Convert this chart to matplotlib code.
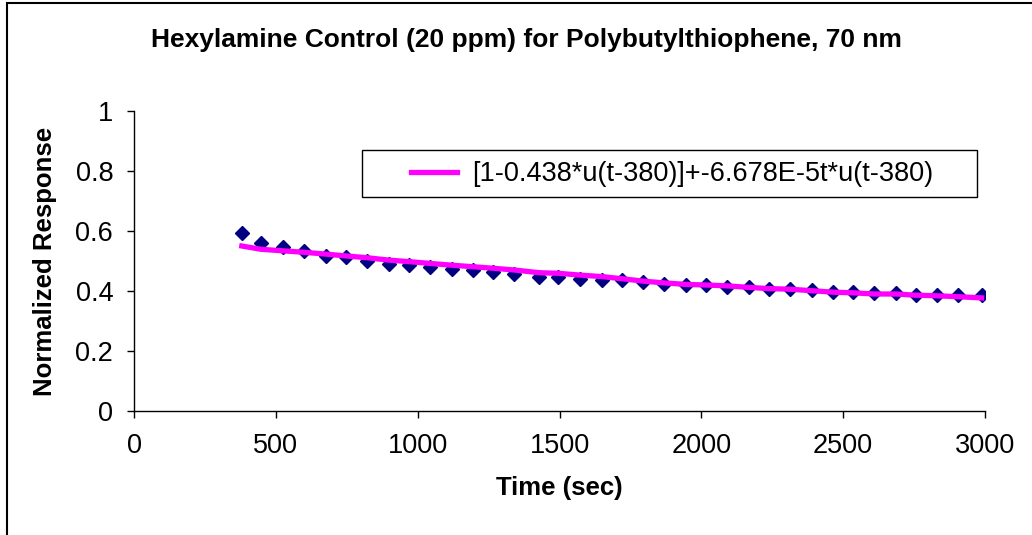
import matplotlib
matplotlib.use("Agg")
import matplotlib.pyplot as plt
from matplotlib.patches import Rectangle

plt.rcParams['font.family'] = ['Liberation Sans', 'DejaVu Sans']

# Data
time_s = [380, 448, 524, 600, 676, 746, 821, 898, 968, 1043, 1120, 1194,
          1264, 1341, 1428, 1496, 1572, 1649, 1719, 1795, 1869, 1946, 2016,
          2092, 2168, 2239, 2313, 2389, 2465, 2534, 2609, 2686, 2756, 2830,
          2906, 2988]
measured = [0.594, 0.561, 0.546, 0.533, 0.518, 0.512, 0.501, 0.491, 0.486,
            0.479, 0.473, 0.469, 0.462, 0.458, 0.447, 0.447, 0.441, 0.437,
            0.437, 0.430, 0.424, 0.419, 0.419, 0.414, 0.413, 0.408, 0.408,
            0.403, 0.397, 0.397, 0.392, 0.392, 0.386, 0.387, 0.388, 0.388]
fit = [0.550, 0.539, 0.534, 0.529, 0.523, 0.517, 0.511, 0.503, 0.498, 0.492,
       0.486, 0.481, 0.476, 0.470, 0.461, 0.459, 0.453, 0.448, 0.441, 0.433,
       0.427, 0.422, 0.420, 0.417, 0.412, 0.408, 0.406, 0.401, 0.396, 0.394,
       0.390, 0.390, 0.386, 0.384, 0.381, 0.377]
fit_label = "[1-0.438*u(t-380)]+-6.678E-5t*u(t-380)"
x_ticks = [0, 500, 1000, 1500, 2000, 2500, 3000]
y_ticks = [0, 0.2, 0.4, 0.6, 0.8, 1]
y_tick_labels = ["0", "0.2", "0.4", "0.6", "0.8", "1"]

W, H = 1032, 535
fig = plt.figure(figsize=(W / 100, H / 100), dpi=100)
ax = fig.add_axes([134 / W, 1 - 411 / H, (985 - 134) / W, (411 - 111) / H])

ax.plot(time_s, measured, linestyle='none', marker='D', markersize=7,
        color='#000080', zorder=2)
line, = ax.plot(time_s, fit, color='#FF00FF', linewidth=3.8, zorder=3,
                label=fit_label)

ax.set_xlim(0, 3000)
ax.set_ylim(0, 1)
ax.set_xticks(x_ticks)
ax.set_xticklabels([str(v) for v in x_ticks])
ax.set_yticks(y_ticks)
ax.set_yticklabels(y_tick_labels)
ax.tick_params(axis='both', direction='out', length=5, width=1,
               labelsize=19.5, colors='black', pad=10)
ax.tick_params(axis='x', pad=11)
for s in ['top', 'right']:
    ax.spines[s].set_visible(False)
for s in ['left', 'bottom']:
    ax.spines[s].set_linewidth(1)
    ax.spines[s].set_color('black')

ax.set_xlabel("Time (sec)", fontsize=18.5, fontweight='bold', labelpad=12)
ax.set_ylabel("Normalized Response", fontsize=18.5, fontweight='bold',
              labelpad=13)
fig.text(526 / W, 1 - 40 / H, "Hexylamine Control (20 ppm) for Polybutylthiophene, 70 nm",
         ha='center', va='center', fontsize=19, fontweight='bold')

# legend box
box = Rectangle((362 / W, 1 - 197 / H), 615 / W, 47 / H,
                transform=fig.transFigure, fill=True, facecolor='white',
                edgecolor='black', linewidth=1, zorder=4, clip_on=False)
ax.add_artist(box)
leg = ax.legend(handles=[line], loc='center',
                bbox_to_anchor=(672 / W, 1 - 174 / H),
                bbox_transform=fig.transFigure, fontsize=19.5, frameon=False,
                handlelength=1.7, handletextpad=0.55, borderpad=0,
                borderaxespad=0)
leg.set_zorder(5)

fig.patches.append(Rectangle((7 / W, -0.2), 1.2, 1.2 - 3 / H,
                             transform=fig.transFigure, fill=False,
                             edgecolor='black', linewidth=1.5))

fig.savefig("out.png", dpi=100)
